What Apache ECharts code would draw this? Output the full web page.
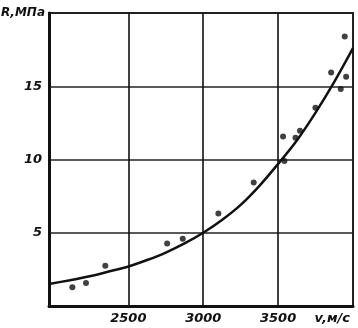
<!DOCTYPE html>
<html><head><meta charset="utf-8">
<script src="https://cdn.jsdelivr.net/npm/echarts@6/dist/echarts.min.js"></script>
<style>html,body{margin:0;padding:0;background:#fff}#c{width:358px;height:328px}</style>
</head><body><div id="c"></div>
<script>
// measured points: velocity v (m/s) and strength R (MPa)
var pointV = [2126, 2217, 2346, 2759, 2863, 3101, 3337, 3533, 3542, 3616, 3646, 3749, 3854, 3918, 3954, 3945];
var pointR = [1.28, 1.57, 2.74, 4.26, 4.59, 6.31, 8.43, 11.57, 9.9, 11.48, 11.97, 13.53, 15.94, 14.81, 15.64, 18.4];
// fitted curve
var curveV = [1970, 2110, 2250, 2375, 2500, 2625, 2750, 2875, 3000, 3125, 3250, 3375, 3500, 3625, 3750, 3875, 4000];
var curveR = [1.5, 1.76, 2.05, 2.37, 2.7, 3.14, 3.65, 4.27, 5.0, 5.87, 6.9, 8.2, 9.7, 11.3, 13.2, 15.3, 17.6];
var xTicks = [2500, 3000, 3500];
var yTicks = [5, 10, 15];
var xName = 'v,м/с';
var yName = 'R,МПа';

var font = {fontFamily: 'DejaVu Sans', fontStyle: 'italic', fontWeight: 'bold', fontSize: 13, color: '#111'};
var chart = echarts.init(document.getElementById('c'), null, {renderer: 'canvas'});
chart.setOption({
  animation: false,
  grid: {left: 49, right: 5, top: 13, bottom: 22, show: true, borderColor: '#222', borderWidth: 2,
         containLabel: false, outerBoundsMode: 'none'},
  xAxis: {
    type: 'value', min: 1970, max: 4000,
    axisLine: {show: true, lineStyle: {color: '#111', width: 3}},
    axisTick: {show: false, customValues: xTicks},
    axisLabel: Object.assign({customValues: xTicks, margin: 6, formatter: function (v) { return String(v); }}, font),
    splitLine: {show: false},
    name: xName, nameLocation: 'end', nameGap: -3,
    nameTextStyle: Object.assign({align: 'right', verticalAlign: 'top', padding: [6, 0, 0, 0]}, font)
  },
  yAxis: {
    type: 'value', min: 0, max: 20, interval: 5,
    axisLine: {show: true, lineStyle: {color: '#111', width: 3}},
    axisTick: {show: false},
    axisLabel: Object.assign({margin: 7, formatter: function (v) { return yTicks.indexOf(v) >= 0 ? String(v) : ''; }}, font),
    splitLine: {show: true, lineStyle: {color: '#222', width: 1.6}},
    name: yName, nameLocation: 'end', nameGap: 0,
    nameTextStyle: Object.assign({}, font, {fontSize: 12, align: 'right', verticalAlign: 'middle', padding: [0, 4, 0, 0]})
  },
  series: [
    {
      type: 'line', data: curveV.map(function (v, i) { return [v, curveR[i]]; }),
      smooth: 0.3, showSymbol: false, lineStyle: {color: '#111', width: 2.5}, z: 3,
      markLine: {
        silent: true, symbol: 'none', label: {show: false},
        lineStyle: {color: '#111', width: 1.6, type: 'solid'},
        data: xTicks.map(function (v) { return {xAxis: v}; })
      }
    },
    {
      type: 'scatter', data: pointV.map(function (v, i) { return [v, pointR[i]]; }),
      symbol: 'circle', symbolSize: 6, itemStyle: {color: '#111'}, z: 4
    }
  ]
});
</script></body></html>
